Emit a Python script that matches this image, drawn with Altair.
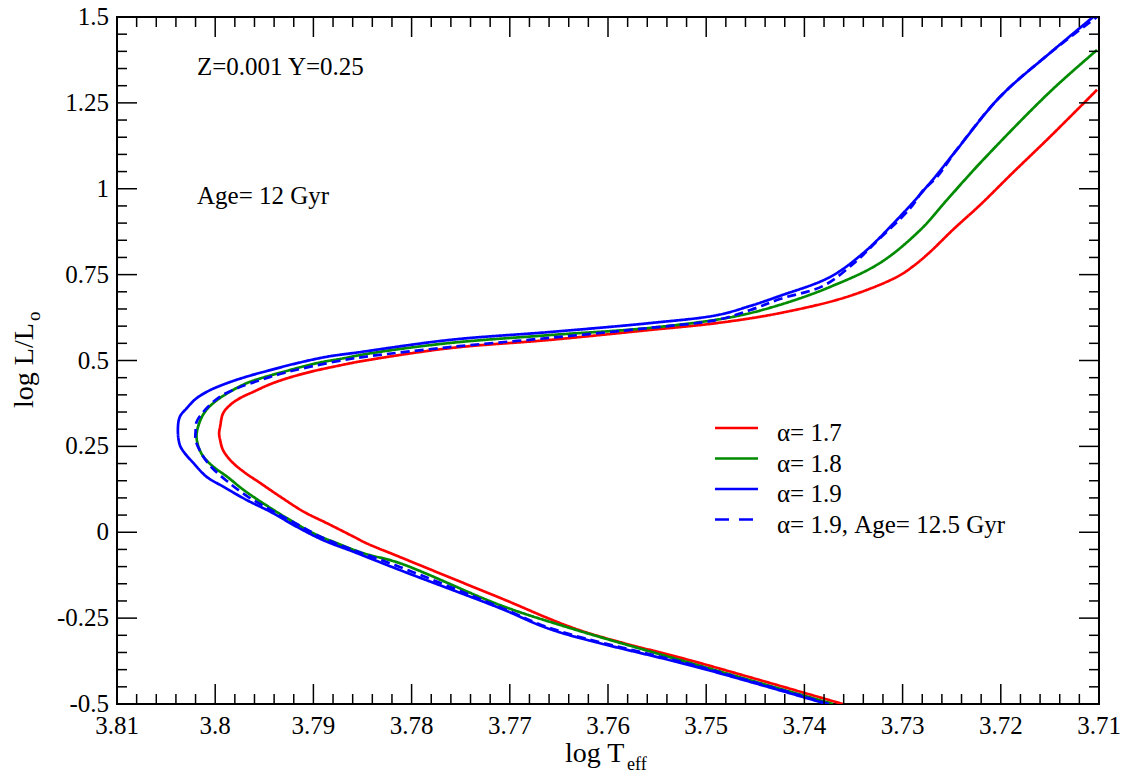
import altair as alt
import pandas as pd

# Isochrone tracks: log Teff and log L/Lsun along each curve (MS -> turnoff -> SGB -> RGB)
red_T = [3.7361, 3.7506, 3.7629, 3.7710, 3.7812, 3.7846, 3.7859, 3.7886, 3.7910, 3.7934,
         3.7954, 3.7971, 3.7983, 3.7992, 3.7995, 3.7996, 3.7995, 3.7992, 3.7985, 3.7975,
         3.7961, 3.7944, 3.7927, 3.7903, 3.7876, 3.7849, 3.7761, 3.7659, 3.7557, 3.7489,
         3.7425, 3.7357, 3.7306, 3.7289, 3.7272, 3.7249, 3.7221, 3.7188, 3.7150, 3.7102]
red_L = [-0.500, -0.381, -0.285, -0.191, -0.072, -0.032, -0.013, 0.026, 0.060, 0.104,
         0.143, 0.176, 0.205, 0.239, 0.269, 0.288, 0.307, 0.346, 0.370, 0.390,
         0.409, 0.431, 0.448, 0.467, 0.484, 0.499, 0.536, 0.560, 0.589, 0.609,
         0.638, 0.685, 0.743, 0.775, 0.816, 0.880, 0.953, 1.046, 1.151, 1.288]

green_T = [3.7371, 3.7506, 3.7642, 3.7710, 3.7812, 3.7849, 3.7876, 3.7900, 3.7927, 3.7951,
           3.7971, 3.7988, 3.8002, 3.8012, 3.8017, 3.8019, 3.8015, 3.8009, 3.7998, 3.7985,
           3.7968, 3.7948, 3.7924, 3.7897, 3.7870, 3.7842, 3.7761, 3.7659, 3.7557, 3.7473,
           3.7425, 3.7374, 3.7323, 3.7282, 3.7255, 3.7221, 3.7150, 3.7102]
green_L = [-0.500, -0.389, -0.276, -0.212, -0.090, -0.061, -0.032, -0.003, 0.041, 0.084,
           0.123, 0.162, 0.191, 0.220, 0.249, 0.283, 0.327, 0.356, 0.385, 0.409,
           0.434, 0.453, 0.472, 0.492, 0.506, 0.521, 0.551, 0.574, 0.595, 0.627,
           0.662, 0.714, 0.784, 0.880, 0.967, 1.075, 1.282, 1.404]

blue_T = [3.7377, 3.7506, 3.7656, 3.7710, 3.7812, 3.7859, 3.7890, 3.7917, 3.7944, 3.7968,
          3.7992, 3.8009, 3.8022, 3.8031, 3.8036, 3.8038, 3.8036, 3.8029, 3.8019, 3.8005,
          3.7988, 3.7968, 3.7944, 3.7917, 3.7886, 3.7856, 3.7761, 3.7659, 3.7557, 3.7489,
          3.7455, 3.7425, 3.7374, 3.7340, 3.7306, 3.7272, 3.7245, 3.7201, 3.7150, 3.7106]
blue_L = [-0.500, -0.395, -0.285, -0.221, -0.110, -0.057, -0.023, 0.016, 0.060, 0.094,
          0.133, 0.162, 0.201, 0.230, 0.254, 0.298, 0.336, 0.361, 0.390, 0.414,
          0.434, 0.453, 0.472, 0.492, 0.511, 0.523, 0.560, 0.583, 0.609, 0.632,
          0.659, 0.688, 0.743, 0.813, 0.909, 1.017, 1.113, 1.267, 1.395, 1.500]

old_T = [3.7375, 3.7506, 3.7656, 3.7710, 3.7812, 3.7859, 3.7890, 3.7917, 3.7944, 3.7968,
         3.7988, 3.8005, 3.8015, 3.8020, 3.8020, 3.8019, 3.8013, 3.8007, 3.7995, 3.7978,
         3.7954, 3.7931, 3.7903, 3.7870, 3.7842, 3.7761, 3.7659, 3.7557, 3.7489, 3.7455,
         3.7425, 3.7381, 3.7348, 3.7328, 3.7292, 3.7279, 3.7265, 3.7245, 3.7201, 3.7150,
         3.7102]
old_L = [-0.500, -0.392, -0.282, -0.218, -0.101, -0.052, -0.017, 0.024, 0.066, 0.106,
         0.149, 0.193, 0.234, 0.269, 0.292, 0.321, 0.347, 0.366, 0.395, 0.419,
         0.443, 0.463, 0.482, 0.501, 0.513, 0.539, 0.566, 0.595, 0.618, 0.647,
         0.679, 0.717, 0.787, 0.842, 0.944, 0.996, 1.034, 1.113, 1.267, 1.395,
         1.500]

series_names = ["α= 1.7", "α= 1.8", "α= 1.9", "α= 1.9, Age= 12.5 Gyr"]
series_colors = ["#ff0000", "#008b00", "#0000ff", "#0000ff"]
series_dash = [[1, 0], [1, 0], [1, 0], [9, 5]]
legend_dash = [[1, 0], [1, 0], [1, 0], [14, 10]]
tracks = [(red_T, red_L), (green_T, green_L), (blue_T, blue_L), (old_T, old_L)]

# Axis ticks and their labels
x_major = [3.71, 3.72, 3.73, 3.74, 3.75, 3.76, 3.77, 3.78, 3.79, 3.8, 3.81]
x_labels = ["3.71", "3.72", "3.73", "3.74", "3.75", "3.76", "3.77", "3.78", "3.79", "3.8", "3.81"]
y_major = [-0.5, -0.25, 0, 0.25, 0.5, 0.75, 1, 1.25, 1.5]
y_labels = ["-0.5", "-0.25", "0", "0.25", "0.5", "0.75", "1", "1.25", "1.5"]
x_minor = [round(3.71 + 0.002 * k, 3) for k in range(51) if k % 5]
y_minor = [round(-0.5 + 0.05 * k, 2) for k in range(41) if k % 5]

rows = []
for name, (T, L) in zip(series_names, tracks):
    for i, (t, l) in enumerate(zip(T, L)):
        rows.append({"series": name, "T": t, "L": l, "i": i})
df = pd.DataFrame(rows)

W, H = 982, 687
FONT = "Liberation Serif"
MAJ, MIN = 20, 10

xscale = alt.Scale(domain=[3.71, 3.81], reverse=True, nice=False, zero=False)
yscale = alt.Scale(domain=[-0.5, 1.5], nice=False, zero=False)

curves = alt.Chart(df).mark_line(strokeWidth=2.7, clip=True, interpolate="catmull-rom").encode(
    x=alt.X("T:Q", scale=xscale, axis=None),
    y=alt.Y("L:Q", scale=yscale, axis=None),
    color=alt.Color("series:N", scale=alt.Scale(domain=series_names, range=series_colors), legend=None),
    strokeDash=alt.StrokeDash("series:N", scale=alt.Scale(domain=series_names, range=series_dash), legend=None),
    order=alt.Order("i:Q"),
)


def xticks(values, length):
    d = pd.DataFrame({"v": values})
    bottom = alt.Chart(d).mark_rule(color="black", strokeWidth=1.5).encode(
        x=alt.X("v:Q", scale=xscale, axis=None), y=alt.value(H), y2=alt.value(H - length))
    top = alt.Chart(d).mark_rule(color="black", strokeWidth=1.5).encode(
        x=alt.X("v:Q", scale=xscale, axis=None), y=alt.value(0), y2=alt.value(length))
    return [bottom, top]


def yticks(values, length):
    d = pd.DataFrame({"v": values})
    left = alt.Chart(d).mark_rule(color="black", strokeWidth=1.5).encode(
        y=alt.Y("v:Q", scale=yscale, axis=None), x=alt.value(0), x2=alt.value(length))
    right = alt.Chart(d).mark_rule(color="black", strokeWidth=1.5).encode(
        y=alt.Y("v:Q", scale=yscale, axis=None), x=alt.value(W), x2=alt.value(W - length))
    return [left, right]


ticks = xticks(x_major, MAJ) + xticks(x_minor, MIN) + yticks(y_major, MAJ) + yticks(y_minor, MIN)

xlab = alt.Chart(pd.DataFrame({"v": x_major, "t": x_labels})).mark_text(
    font=FONT, fontSize=25, color="black", align="center", baseline="alphabetic").encode(
    x=alt.X("v:Q", scale=xscale, axis=None), y=alt.value(H + 30), text="t:N")
ylab = alt.Chart(pd.DataFrame({"v": y_major, "t": y_labels})).mark_text(
    font=FONT, fontSize=25, color="black", align="right", baseline="middle").encode(
    y=alt.Y("v:Q", scale=yscale, axis=None), x=alt.value(-8), text="t:N")

one = pd.DataFrame({"k": [0]})


def label(text, x, y, size, angle=0, align="left"):
    return alt.Chart(one).mark_text(text=text, font=FONT, fontSize=size, color="black",
                                    align=align, baseline="alphabetic", angle=angle).encode(
        x=alt.value(x), y=alt.value(y))


notes = [
    label("Z=0.001 Y=0.25", 80, 58, 25),
    label("Age= 12 Gyr", 80, 187, 25),
    # x title: log T_eff
    label("log T", 448, 745, 28),
    label("eff", 510, 753, 18),
    # y title: log L/L_o
    label("log L/L", -84, 391, 28, angle=270),
    label("o", -77, 304, 19, angle=270),
]

# Legend block
legend_layers = []
for k, (name, col, dash) in enumerate(zip(series_names, series_colors, legend_dash)):
    ly = 411 + 30.5 * k
    d = pd.DataFrame({"series": [name]})
    legend_layers.append(alt.Chart(d).mark_rule(color=col, strokeWidth=2.7, strokeDash=dash).encode(
        x=alt.value(598), x2=alt.value(641), y=alt.value(ly)))
    legend_layers.append(alt.Chart(d).mark_text(font=FONT, fontSize=25, color="black",
                                                align="left", baseline="alphabetic").encode(
        x=alt.value(660), y=alt.value(ly + 13), text="series:N"))

chart = alt.layer(curves, *ticks, xlab, ylab, *notes, *legend_layers).properties(
    width=W, height=H,
    autosize=alt.AutoSizeParams(type="none"),
    padding={"left": 117, "top": 17, "right": 23, "bottom": 72},
    background="white",
).configure_view(stroke="black", strokeWidth=2)

chart.save("out.html", embed_options={"renderer": "svg", "actions": False})
